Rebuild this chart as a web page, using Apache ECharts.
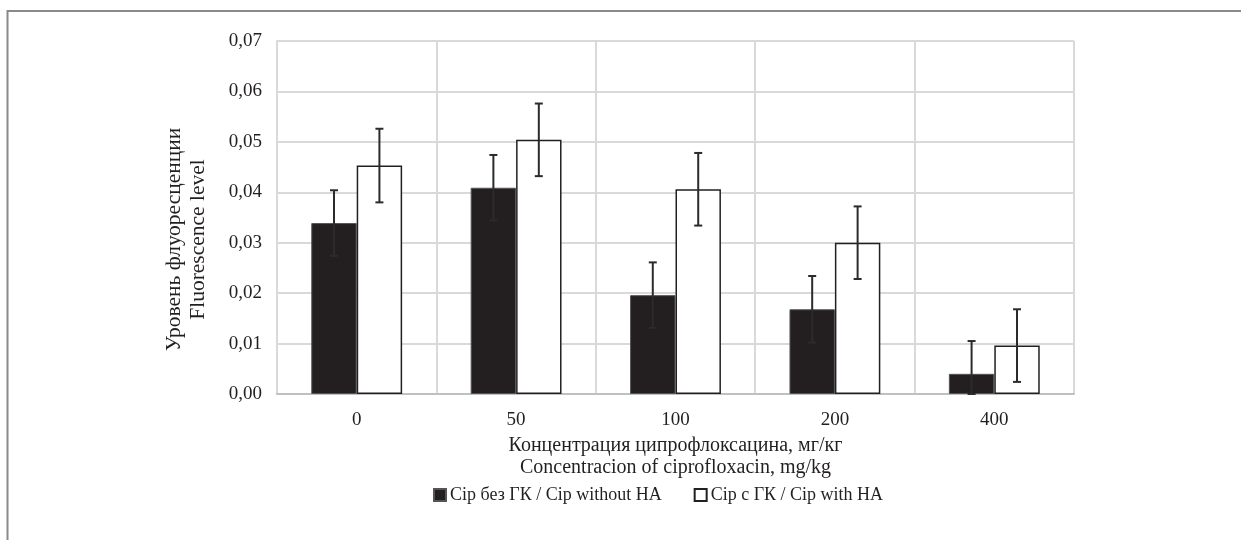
<!DOCTYPE html>
<html>
<head>
<meta charset="utf-8">
<script src="https://cdn.jsdelivr.net/npm/echarts@6/dist/echarts.min.js"></script>
<style>html,body{margin:0;padding:0;background:#fff;}#c{width:1241px;height:540px;}</style>
</head>
<body>
<div id="c"></div>
<script>
const categories = ['0', '50', '100', '200', '400'];
const seriesNames = ['Cip без ГК / Cip without HA', 'Cip с ГК / Cip with HA'];
const withoutHA = [0.0339, 0.0409, 0.0196, 0.0168, 0.0040];
const withoutHAErr = [0.0065, 0.0065, 0.0065, 0.0066, 0.0065];
const withHA = [0.0453, 0.0504, 0.0406, 0.0300, 0.0096];
const withHAErr = [0.0073, 0.0072, 0.0072, 0.0072, 0.0072];
const yTicks = [0, 0.01, 0.02, 0.03, 0.04, 0.05, 0.06, 0.07];

const FONT = '"Liberation Serif", "DejaVu Serif", serif';
const chart = echarts.init(document.getElementById('c'));

function errData(vals, errs) {
  return vals.map((v, i) => [i, Math.max(0, v - errs[i]), v + errs[i]]);
}
function errRender(seriesIdx) {
  return function (params, api) {
    const ci = api.value(0);
    const lo = api.coord([ci, api.value(1)]);
    const hi = api.coord([ci, api.value(2)]);
    const bw = api.size([1, 0])[0];
    const barW = bw * 0.285;
    const x = lo[0] + (seriesIdx === 0 ? -barW / 2 : barW / 2);
    const cap = 4;
    const st = { stroke: '#2b2b2b', lineWidth: 2 };
    return {
      type: 'group',
      children: [
        { type: 'line', shape: { x1: x, y1: hi[1], x2: x, y2: lo[1] }, style: st },
        { type: 'line', shape: { x1: x - cap, y1: hi[1], x2: x + cap, y2: hi[1] }, style: st },
        { type: 'line', shape: { x1: x - cap, y1: lo[1], x2: x + cap, y2: lo[1] }, style: st }
      ]
    };
  };
}

chart.setOption({
  backgroundColor: '#fff',
  animation: false,
  textStyle: { fontFamily: FONT },
  grid: { left: 277, right: 167, top: 41, bottom: 146 },
  legend: {
    data: seriesNames,
    bottom: 31,
    left: 428,
    icon: 'rect',
    itemWidth: 12,
    itemHeight: 12,
    itemGap: 32,
    textStyle: { fontFamily: FONT, fontSize: 18, color: '#231f20', padding: [0, 0, 0, -1] }
  },
  xAxis: {
    type: 'category',
    data: categories,
    name: 'Концентрация ципрофлоксацина, мг/кг\nConcentracion of ciprofloxacin, mg/kg',
    nameLocation: 'middle',
    nameGap: 33,
    nameTextStyle: { fontFamily: FONT, fontSize: 20, color: '#231f20', lineHeight: 22, verticalAlign: 'top' },
    axisLine: { lineStyle: { color: '#c0c0c0', width: 2 } },
    axisTick: { show: false },
    axisLabel: { fontFamily: FONT, fontSize: 19, color: '#231f20', margin: 17 },
    splitLine: { show: true, lineStyle: { color: '#d9d9d9', width: 2 } }
  },
  yAxis: {
    type: 'value',
    min: 0, max: 0.07, interval: 0.01,
    name: 'Уровень флуоресценции\nFluorescence level',
    nameLocation: 'middle',
    nameGap: 67,
    nameTextStyle: { fontFamily: FONT, fontSize: 21.5, color: '#231f20', lineHeight: 24, padding: [0, 44, 0, 0] },
    axisLine: { show: true, lineStyle: { color: '#d9d9d9', width: 2 } },
    axisTick: { show: false },
    axisLabel: {
      fontFamily: FONT, fontSize: 19, color: '#231f20', margin: 15,
      formatter: v => {
        const t = yTicks.find(k => Math.abs(k - v) < 1e-9);
        return (t !== undefined ? t : v).toFixed(2).replace('.', ',');
      }
    },
    splitLine: { lineStyle: { color: '#d9d9d9', width: 2 } }
  },
  series: [
    {
      name: seriesNames[0], type: 'bar', data: withoutHA,
      barGap: '0%', barCategoryGap: '43%',
      itemStyle: { color: '#231f20', borderColor: '#555', borderWidth: 1 }
    },
    {
      name: seriesNames[1], type: 'bar', data: withHA,
      barGap: '0%', barCategoryGap: '43%',
      itemStyle: { color: '#ffffff', borderColor: '#231f20', borderWidth: 1.5 }
    },
    {
      type: 'custom', renderItem: errRender(0), data: errData(withoutHA, withoutHAErr),
      encode: { x: 0, y: [1, 2] }, z: 10, silent: true
    },
    {
      type: 'custom', renderItem: errRender(1), data: errData(withHA, withHAErr),
      encode: { x: 0, y: [1, 2] }, z: 10, silent: true
    }
  ],
  graphic: [
    {
      type: 'polyline',
      shape: { points: [[7.5, 540], [7.5, 11], [1241, 11]] },
      style: { stroke: '#8a8a8a', lineWidth: 2, fill: null }
    }
  ]
});
</script>
</body>
</html>
